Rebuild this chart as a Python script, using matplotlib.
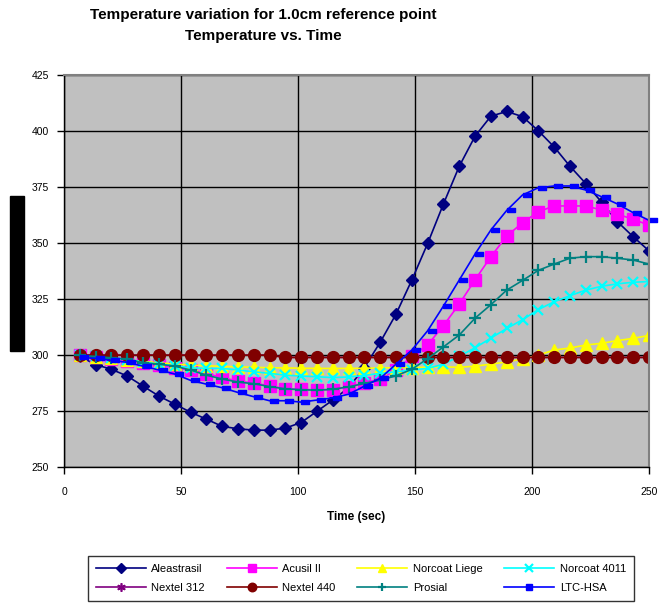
import matplotlib.pyplot as plt
import matplotlib.transforms as mtransforms
from matplotlib.lines import Line2D

plt.rcParams['font.family'] = ['Liberation Sans', 'DejaVu Sans']

# time steps (sec)
time = [6.76, 13.51, 20.27, 27.03, 33.78, 40.54, 47.30, 54.05, 60.81, 67.57,
        74.32, 81.08, 87.84, 94.59, 101.35, 108.11, 114.86, 121.62, 128.38, 135.14,
        141.89, 148.65, 155.41, 162.16, 168.92, 175.68, 182.43, 189.19, 195.95, 202.70,
        209.46, 216.22, 222.97, 229.73, 236.49, 243.24, 250.00]

aleastrasil = [299.5, 295.8, 293.7, 290.7, 286.2, 281.8, 278.2, 274.6, 271.5, 268.3,
               267.2, 266.6, 266.6, 267.5, 270.0, 275.0, 280.0, 285.5, 294.5, 305.8,
               318.3, 333.5, 349.8, 367.4, 384.2, 397.6, 406.5, 408.6, 406.3, 400.0,
               392.8, 384.2, 376.5, 368.2, 359.5, 352.8, 346.5]
acusil = [300.0, 299.0, 298.5, 297.5, 296.5, 295.5, 294.5, 293.3, 291.8, 290.1,
          288.4, 287.6, 286.3, 285.1, 284.8, 284.5, 284.7, 286.0, 287.6, 289.5,
          293.4, 299.5, 304.6, 313.2, 322.8, 333.6, 343.9, 353.1, 359.0, 363.9,
          366.5, 366.5, 366.5, 364.7, 362.9, 360.5, 358.0]
norcoat_liege = [300.0, 299.3, 298.6, 297.9, 297.2, 296.6, 296.0, 295.6, 295.3, 295.0,
                 294.8, 294.6, 294.4, 294.3, 294.2, 294.1, 294.1, 294.1, 294.2, 294.3,
                 294.4, 294.5, 294.6, 294.8, 294.6, 295.1, 296.0, 297.0, 298.3, 300.0,
                 302.3, 303.2, 304.5, 305.3, 306.5, 307.5, 308.8]
norcoat_4011 = [300.0, 299.5, 298.8, 298.0, 297.0, 296.0, 295.3, 294.4, 294.1, 294.1,
                293.4, 292.6, 291.9, 291.1, 290.7, 290.4, 290.0, 290.3, 291.0, 291.9,
                292.6, 293.4, 294.1, 296.0, 299.5, 303.3, 307.6, 311.9, 315.8, 320.3,
                323.8, 326.5, 329.0, 330.7, 331.8, 332.5, 332.8]
nextel_312 = [300.0] * 13 + [299.0] * 24
nextel_440 = [300.0] * 13 + [299.0] * 24
prosial = [300.0, 299.4, 298.8, 298.3, 296.6, 296.0, 295.1, 293.4, 291.1, 289.4,
           288.0, 287.3, 286.0, 285.0, 284.6, 284.4, 284.8, 285.9, 287.4, 288.9,
           290.8, 293.7, 298.5, 303.7, 309.0, 316.5, 322.5, 329.0, 333.3, 337.8,
           340.6, 343.2, 343.9, 343.9, 343.2, 342.4, 340.6]
ltc_hsa = [299.0, 298.6, 297.7, 296.8, 295.1, 293.4, 291.6, 288.8, 287.1, 285.5,
           283.4, 281.5, 279.7, 279.7, 279.1, 280.0, 281.0, 282.6, 286.2, 289.7,
           296.0, 302.3, 310.9, 321.9, 333.5, 345.1, 355.8, 364.5, 371.4, 374.6,
           375.4, 375.4, 373.6, 370.6, 367.4, 363.5, 360.1]

fig = plt.figure(figsize=(6.67, 6.07), dpi=100)
ax = fig.add_axes([0.096, 0.230, 0.877, 0.647])
ax.set_facecolor('#C0C0C0')

lw = 1.2
# flat rectangle marker used for LTC-HSA
rect = [(-1, -0.55), (1, -0.55), (1, 0.55), (-1, 0.55), (-1, -0.55)]

series = [
    ('Aleastrasil', aleastrasil, '#000080', dict(marker='D', ms=6.5)),
    ('Acusil II', acusil, '#FF00FF', dict(marker='s', ms=8)),
    ('Norcoat Liege', norcoat_liege, '#FFFF00', dict(marker='^', ms=8.5)),
    ('Norcoat 4011', norcoat_4011, '#00FFFF', dict(marker='x', ms=7.5, mew=1.6)),
    ('Nextel 312', nextel_312, '#800080', dict(marker=(6, 2, 0), ms=8.5, mew=1.2)),
    ('Nextel 440', nextel_440, '#800000', dict(marker='o', ms=8.5)),
    ('Prosial', prosial, '#008080', dict(marker='+', ms=8, mew=1.6)),
]

handles = []
for name, vals, col, mk in series:
    ax.plot(time, vals, color=col, lw=lw, mfc=col, mec=col, **mk)
    small = dict(mk)
    small['ms'] = mk['ms'] * 0.72
    handles.append(Line2D([], [], color=col, lw=lw, mfc=col, mec=col, **small))

# LTC-HSA: markers sit a few pixels right of the line
ax.plot(time, ltc_hsa, color='#0000FF', lw=lw)
shift = mtransforms.ScaledTranslation(0.04, 0, fig.dpi_scale_trans)
ax.plot(time, ltc_hsa, ls='none', marker=rect, ms=5.5, color='#0000FF',
        transform=ax.transData + shift, clip_on=False)
handles.append(Line2D([], [], color='#0000FF', lw=lw, marker='s', ms=4))

ax.set_xlim(0, 250)
ax.set_ylim(250, 425)
ax.set_xticks([0, 50, 100, 150, 200, 250])
ax.set_yticks([250, 275, 300, 325, 350, 375, 400, 425])
ax.grid(True, color='black', lw=1)
ax.set_axisbelow(True)
ax.tick_params(direction='out', length=5, width=1, labelsize=7.5, colors='black')
ax.tick_params(axis='y', pad=6)
ax.tick_params(axis='x', pad=9)
for s in ['top', 'right']:
    ax.spines[s].set_color('#808080')
    ax.spines[s].set_linewidth(1.5)
for s in ['left', 'bottom']:
    ax.spines[s].set_color('black')
    ax.spines[s].set_linewidth(1)

ax.set_xlabel('Time (sec)', fontsize=8.5, fontweight='bold', labelpad=10)
fig.text(0.0255, 0.550, 'Temperature in degrees Kelvin', rotation=90, fontsize=7.5,
         fontweight='bold', color='black', ha='center', va='center',
         bbox=dict(boxstyle='square,pad=0.15', fc='black', ec='black'))

fig.text(0.395, 0.975, 'Temperature variation for 1.0cm reference point',
         ha='center', va='center', fontsize=11, fontweight='bold')
fig.text(0.395, 0.940, 'Temperature vs. Time',
         ha='center', va='center', fontsize=11, fontweight='bold')

# legend filled row by row (matplotlib fills by column)
labels = [s[0] for s in series] + ['LTC-HSA']
order = [0, 4, 1, 5, 2, 6, 3, 7]
leg = fig.legend([handles[i] for i in order], [labels[i] for i in order], ncol=4,
                 loc='center', bbox_to_anchor=(0.541, 0.047), fontsize=8,
                 frameon=True, fancybox=False, edgecolor='black',
                 handlelength=4.5, columnspacing=1.95, handletextpad=0.5,
                 borderpad=0.7, labelspacing=0.85)
leg.get_frame().set_linewidth(1)

fig.savefig('out.png', dpi=100)
